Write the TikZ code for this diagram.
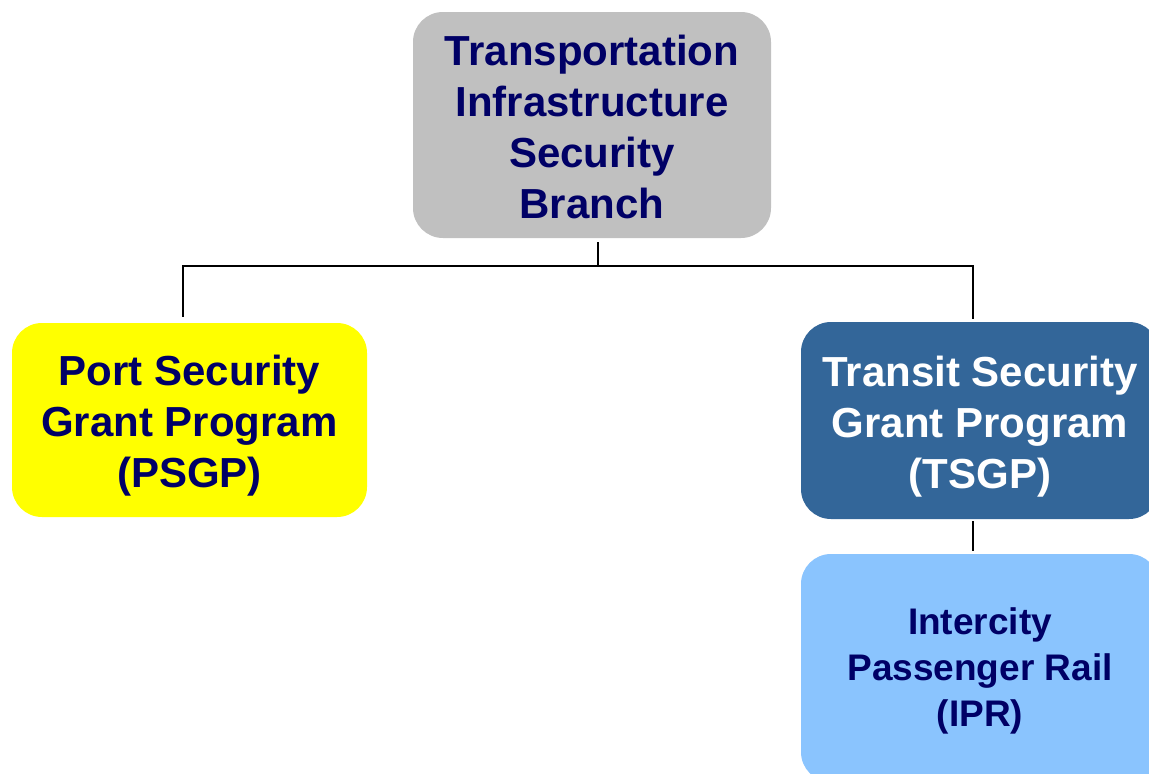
\documentclass[tikz,border=0pt]{standalone}
\usepackage{fontspec}
\setmainfont{Liberation Sans}
\definecolor{navy}{HTML}{000066}
\definecolor{boxgray}{HTML}{C0C0C0}
\definecolor{boxyellow}{HTML}{FFFF00}
\definecolor{boxblue}{HTML}{336699}
\definecolor{boxlight}{HTML}{8AC4FE}
\tikzset{
  box/.style={rectangle, rounded corners=30pt, draw=none, inner sep=0pt},
  boxtext/.style={align=center, inner sep=0pt, font=\bfseries\fontsize{42}{51}\selectfont, text=navy},
  conn/.style={draw=black, line width=2pt}
}
\begin{document}
\begin{tikzpicture}[x=1pt,y=-1pt]
\clip (0,0) rectangle (1149,774);
\fill[white] (0,0) rectangle (1149,774);
\node[box, fill=boxgray, minimum width=358pt, minimum height=226pt] (top) at (592,125) {};
\node[boxtext] (toptext) at ([shift={(0,2)}]top.center) {Transportation\\Infrastructure\\Security\\Branch};
\node[box, fill=boxyellow, minimum width=355pt, minimum height=194pt] (ps) at (189.5,420) {};
\node[boxtext] (pstext) at ([shift={(0,6)}]ps.center) {Port Security\\Grant Program\\(PSGP)};
\node[box, fill=boxblue, minimum width=358pt, minimum height=197pt] (ts) at (980,420.5) {};
\node[boxtext, text=white] (tstext) at ([shift={(0,6)}]ts.center) {Transit Security\\Grant Program\\(TSGP)};
\node[box, fill=boxlight, minimum width=358pt, minimum height=228pt] (ipr) at (980,668) {};
\node[boxtext, font=\bfseries\fontsize{37}{46}\selectfont] (iprtext) at ([shift={(0,2.5)}]ipr.center) {Intercity\\Passenger Rail\\(IPR)};
\coordinate (a) at ([shift={(6,4)}]top.south);
\coordinate (j) at ([shift={(0,24)}]a);
\coordinate (l) at ([shift={(-6.5,-6)}]ps.north);
\coordinate (r) at ([shift={(-7,-3)}]ts.north);
\draw[conn] (a) -- (j);
\draw[conn] (l) -- (l |- j) -- (r |- j) -- (r);
\draw[conn] ([shift={(-7,2)}]ts.south) -- ([shift={(-7,-3)}]ipr.north);
\end{tikzpicture}
\end{document}
